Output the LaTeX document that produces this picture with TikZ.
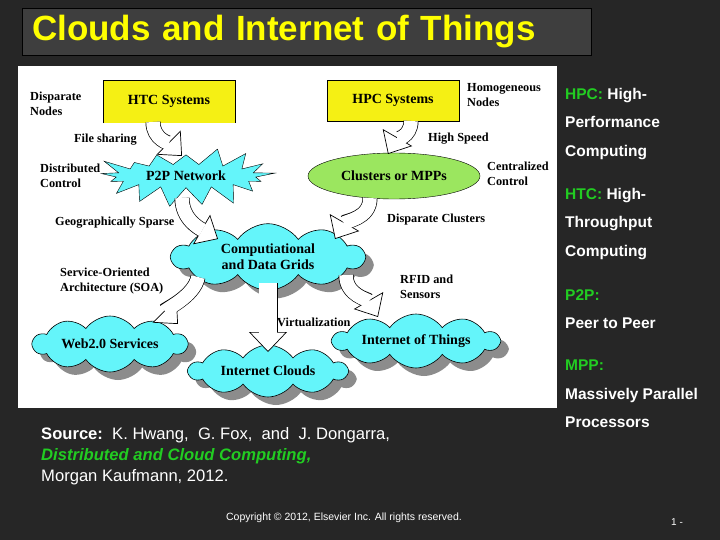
\documentclass[tikz,border=0pt]{standalone}
\usepackage{fontspec}
\setmainfont{Liberation Serif}
\newfontfamily\slidefont{Liberation Sans}
\usetikzlibrary{shapes.geometric,shapes.symbols,arrows.meta,shadows,positioning}
\definecolor{slidebg}{RGB}{38,38,38}
\definecolor{titlebg}{RGB}{62,62,62}
\definecolor{titleyellow}{RGB}{255,255,0}
\definecolor{boxyellow}{RGB}{245,240,20}
\definecolor{cloudcyan}{RGB}{100,245,250}
\definecolor{ellgreen}{RGB}{155,230,95}
\definecolor{termgreen}{RGB}{34,204,34}
\begin{document}
\begin{tikzpicture}[x=1pt,y=-1pt]
    % Styles
        \tikzstyle{titlebox} = [rectangle, draw=black, fill=titlebg, minimum height=47pt, text width=549pt, inner xsep=10pt, align=left, text=titleyellow, font=\slidefont\bfseries\fontsize{35}{40}\selectfont]
        \tikzstyle{panel} = [rectangle, fill=white, minimum width=539pt, minimum height=342pt, inner sep=0pt]
        \tikzstyle{system} = [rectangle, fill=boxyellow, minimum width=132pt, font=\bfseries\fontsize{14}{16}\selectfont]
        \tikzstyle{puff} = [cloud, cloud puffs=10, cloud puff arc=110, cloud ignores aspect, draw, fill=cloudcyan, line width=0.6pt, align=center, font=\bfseries\fontsize{14}{16}\selectfont, drop shadow={shadow xshift=8pt, shadow yshift=-8pt, fill=black!45, opacity=1}]
        \tikzstyle{remark} = [anchor=west, inner sep=0pt, align=left, font=\bfseries\fontsize{12.3}{15}\selectfont]
        \tikzstyle{curvedarrow} = [line width=15pt, -{Triangle[width=34pt,length=19pt,fill=white,line width=0.7pt]}, postaction={draw=white, line width=13.6pt, -, shorten >=18pt}]
        \tikzstyle{downarrow} = [line width=19pt, -{Triangle[width=38pt,length=20pt,fill=white,line width=0.7pt]}, postaction={draw=white, line width=17.6pt, -, shorten >=19pt}]
        \tikzstyle{termline} = [anchor=west, inner sep=0pt, align=left, text=white, font=\slidefont\bfseries\fontsize{15.5}{28.6}\selectfont]
    % slide
        \fill [slidebg] (0,0) rectangle (720,540);
        \useasboundingbox (0,0) rectangle (720,540);
        \node [titlebox] (title) at (306.5,31.5) {Clouds and Internet of Things};
        \node [panel] (panel) at (287.5,237) {};
    % systems
        \node [system, minimum height=43pt] (htc) at (169,101.5) {HTC Systems};
        \draw (htc.south west) |- (htc.north east) -- (htc.south east);
        \node [system, draw, minimum height=41pt] (hpc) at (393,100.5) {HPC Systems};
        \node [starburst, starburst points=17, starburst point height=22pt, random starburst=42, draw, fill=cloudcyan, minimum width=184pt, minimum height=60pt, font=\bfseries\fontsize{14}{16}\selectfont] (p2p) at (186,176) {P2P Network};
        \node [ellipse, draw, fill=ellgreen, minimum width=172pt, minimum height=46pt, font=\bfseries\fontsize{14}{16}\selectfont] (mpp) at (394,176) {Clusters or MPPs};
    % clouds
        \node [puff, minimum width=192pt, minimum height=60pt] (grids) at (268,257) {Computiational\\and Data Grids};
        \node [puff, minimum width=154pt, minimum height=56pt] (web) at (110,344) {Web2.0 Services};
        \node [puff, minimum width=158pt, minimum height=52pt] (inet) at (268,371) {Internet Clouds};
        \node [puff, minimum width=166pt, minimum height=54pt] (iot) at (416,341) {Internet of Things};
    % labels
        \node [remark] (dnodes) at (30,104) {Disparate\\Nodes};
        \node [remark] (hnodes) at (467,95) {Homogeneous\\Nodes};
        \node [remark] (sharing) at (74,140) {File sharing};
        \node [remark] (speed) at (428,139) {High Speed};
        \node [remark] (dcontrol) at (40,176) {Distributed\\Control};
        \node [remark] (ccontrol) at (487,174) {Centralized\\Control};
        \node [remark] (sparse) at (55,223) {Geographically Sparse};
        \node [remark] (dclusters) at (387,220) {Disparate Clusters};
        \node [remark] (soa) at (60,281) {Service-Oriented\\Architecture (SOA)};
        \node [remark] (rfid) at (400,287) {RFID and\\Sensors};
        \node [remark] (virt) at (277,322) {Virtualization};
    % arrows
        \draw [curvedarrow] ([xshift=-16pt,yshift=-20.5pt]htc.center) to [out=-90, in=135] ([xshift=-4pt,yshift=20pt]p2p.center);
        \draw [curvedarrow] ([xshift=18pt,yshift=-20.5pt]hpc.center) to [out=-90, in=60] ([xshift=-6pt,yshift=22pt]mpp.center);
        \draw [curvedarrow] ([xshift=-4pt,yshift=-22pt]p2p.center) to [out=-90, in=150] ([xshift=-50pt,yshift=18pt]grids.center);
        \draw [curvedarrow] ([xshift=-24pt,yshift=-22pt]mpp.center) to [out=-90, in=60] ([xshift=67pt,yshift=18pt]grids.center);
        \draw [curvedarrow] ([xshift=-70pt,yshift=-20pt]grids.center) to [out=-100, in=135] ([xshift=68pt,yshift=20pt]web.center);
        \draw [downarrow] ([yshift=-26pt]grids.center) -- ([yshift=19pt]inet.center);
        \draw [curvedarrow] ([xshift=78pt,yshift=-18pt]grids.center) to [out=-90, in=120] ([xshift=-38pt,yshift=24pt]iot.center);
    % terms
        \node [termline] (hpcdef) at (565,124) {{\color{termgreen}HPC:} High-\\Performance\\Computing};
        \node [termline] (htcdef) at (565,224) {{\color{termgreen}HTC:} High-\\Throughput\\Computing};
        \node [termline] (p2pdef) at (565,309) {{\color{termgreen}P2P:}\\Peer to Peer};
        \node [termline] (mppdef) at (565,394) {{\color{termgreen}MPP:}\\Massively Parallel\\Processors};
    % source and footer
        \node [anchor=west, inner sep=0pt, align=left, text=white, font=\slidefont\fontsize{16.6}{21}\selectfont] (source) at (41,456) {\textbf{Source:}\ \ K. Hwang,\ \ G. Fox,\ \ and\ \ J. Dongarra,\\{\color{termgreen}\bfseries\itshape Distributed and Cloud Computing,}\\Morgan Kaufmann, 2012.};
        \node [text=white, font=\slidefont\fontsize{10.5}{12}\selectfont] (copyright) at (344,518) {Copyright \textcopyright{} 2012, Elsevier Inc. All rights reserved.};
        \node [text=white, font=\slidefont\fontsize{10}{12}\selectfont] (page) at (677,522) {1 -};
\end{tikzpicture}
\end{document}
